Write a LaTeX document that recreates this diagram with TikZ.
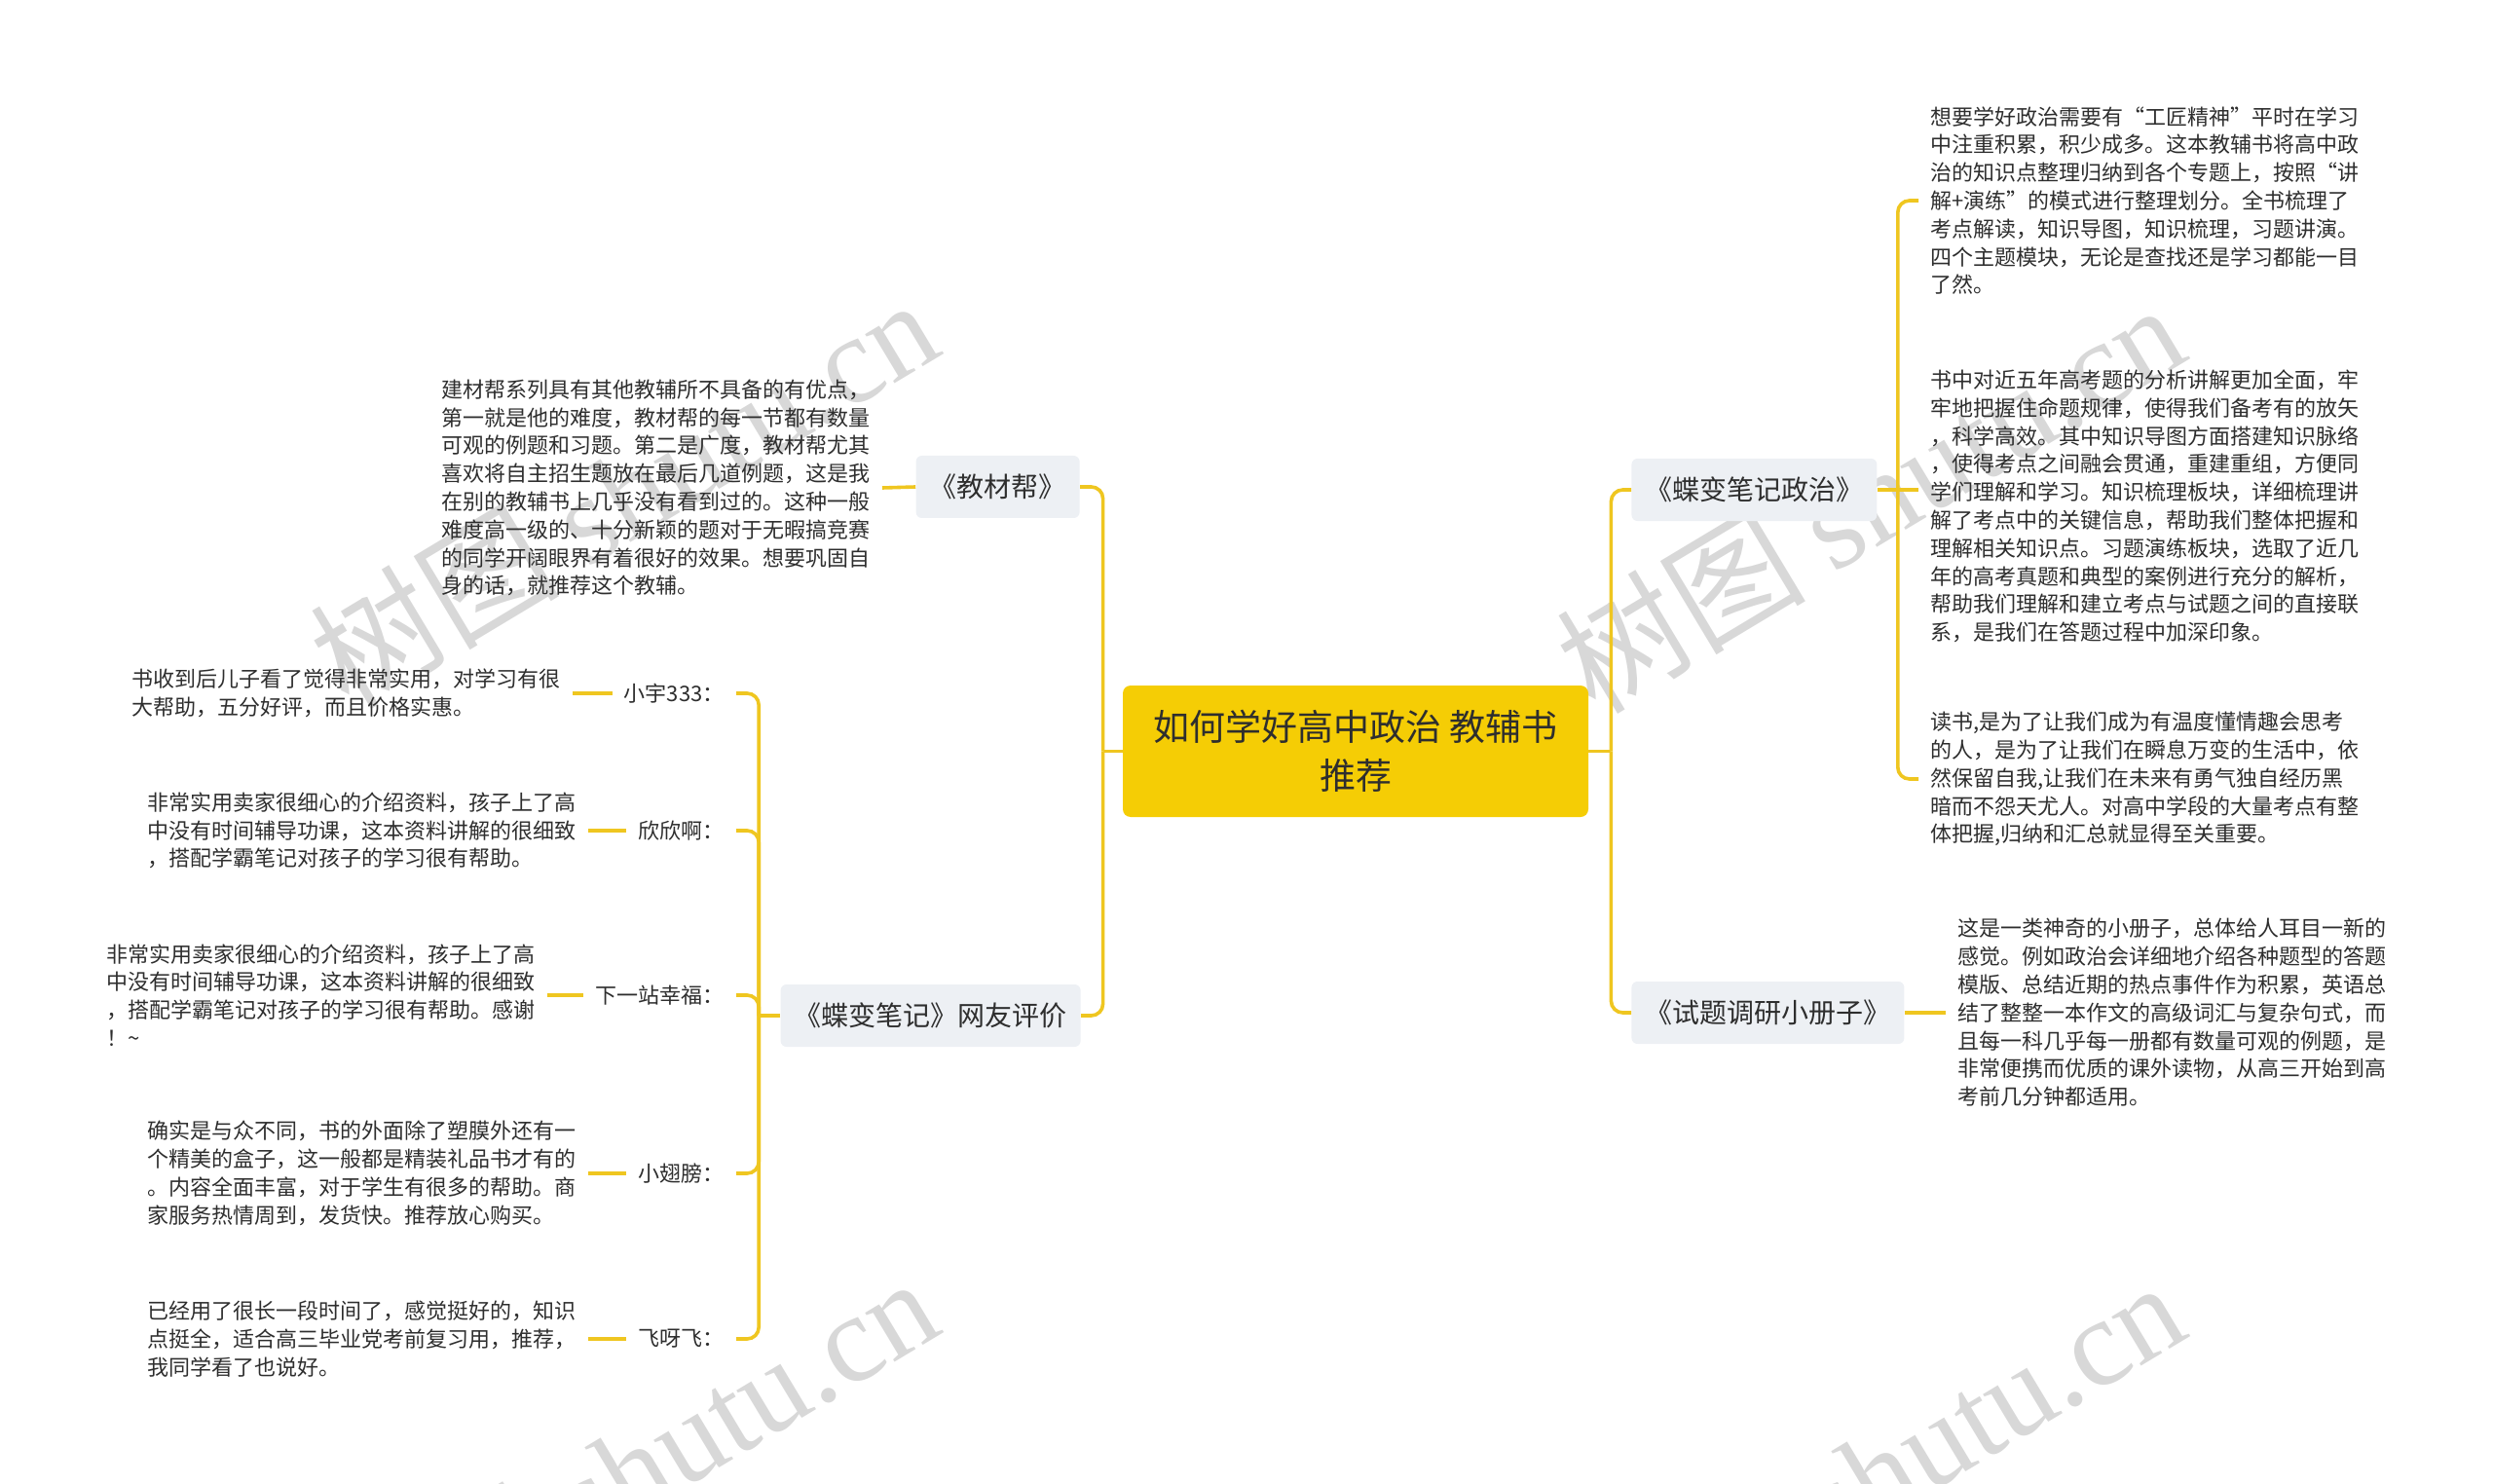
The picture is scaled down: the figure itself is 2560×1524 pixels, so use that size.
\documentclass[tikz,border=0pt]{standalone}
\usepackage{fontspec}
\setmainfont{Noto Sans CJK SC}
\newfontfamily\markserif{Liberation Serif}
\usepackage{tikz}

\definecolor{coreyellow}{HTML}{F5CD05}
\definecolor{linkyellow}{HTML}{EFC620}
\definecolor{topicgray}{HTML}{EDF0F4}
\definecolor{inkdark}{HTML}{2E2E2E}
\definecolor{markgray}{HTML}{D8D8D8}

\tikzset{
  centre/.style={fill=coreyellow, rounded corners=4pt, text=inkdark, align=center,
    minimum width=239pt, minimum height=67.5pt, font=\fontsize{18.5}{25}\selectfont},
  topic/.style={fill=topicgray, rounded corners=3pt, text=inkdark, minimum height=32pt,
    inner xsep=7pt, font=\fontsize{14}{17}\selectfont},
  note/.style={align=left, inner xsep=6pt, inner ysep=2pt, text=inkdark,
    font=\fontsize{11}{14.4}\selectfont},
  reviewer/.style={inner xsep=6pt, text=inkdark, font=\fontsize{11}{14.4}\selectfont},
  conn/.style={draw=linkyellow, line width=1.8pt, rounded corners=6pt},
  wmark/.style={text=markgray, rotate=31, inner sep=0pt, font=\fontsize{64}{64}\selectfont}
}

\begin{document}
\begin{tikzpicture}[x=0.5pt, y=-0.5pt]
  \path[use as bounding box] (0,0) rectangle (2560,1524);
  \clip (0,0) rectangle (2560,1524);

  \foreach \mx/\my in {640/505, 1920/510, 640/1510, 1920/1514}
    \node[wmark] (wm-\mx-\my) at (\mx,\my) {树图 {\markserif shutu.cn}};

  \node[centre] (root) at (1392,771.5) {如何学好高中政治 教辅书\\推荐};

  \node[topic, anchor=east] (jcb) at (1109,500) {《教材帮》};
  \node[topic, anchor=east] (wypj) at (1110,1043) {《蝶变笔记》网友评价};
  \node[topic, anchor=west] (dbz) at (1675,503) {《蝶变笔记政治》};
  \node[topic, anchor=west] (stm) at (1675,1040) {《试题调研小册子》};

  \node[note, anchor=east] (jtxt) at (906,501) {建材帮系列具有其他教辅所不具备的有优点，\\
    第一就是他的难度，教材帮的每一节都有数量\\
    可观的例题和习题。第二是广度，教材帮尤其\\
    喜欢将自主招生题放在最后几道例题，这是我\\
    在别的教辅书上几乎没有看到过的。这种一般\\
    难度高一级的、十分新颖的题对于无暇搞竞赛\\
    的同学开阔眼界有着很好的效果。想要巩固自\\
    身的话，就推荐这个教辅。};

  \node[note, anchor=west] (r1) at (1970,206) {想要学好政治需要有“工匠精神”平时在学习\\
    中注重积累，积少成多。这本教辅书将高中政\\
    治的知识点整理归纳到各个专题上，按照“讲\\
    解+演练”的模式进行整理划分。全书梳理了\\
    考点解读，知识导图，知识梳理，习题讲演。\\
    四个主题模块，无论是查找还是学习都能一目\\
    了然。};
  \node[note, anchor=west] (r2) at (1970,520) {书中对近五年高考题的分析讲解更加全面，牢\\
    牢地把握住命题规律，使得我们备考有的放矢\\
    ，科学高效。其中知识导图方面搭建知识脉络\\
    ，使得考点之间融会贯通，重建重组，方便同\\
    学们理解和学习。知识梳理板块，详细梳理讲\\
    解了考点中的关键信息，帮助我们整体把握和\\
    理解相关知识点。习题演练板块，选取了近几\\
    年的高考真题和典型的案例进行充分的解析，\\
    帮助我们理解和建立考点与试题之间的直接联\\
    系，是我们在答题过程中加深印象。};
  \node[note, anchor=west] (r3) at (1970,800) {读书,是为了让我们成为有温度懂情趣会思考\\
    的人，是为了让我们在瞬息万变的生活中，依\\
    然保留自我,让我们在未来有勇气独自经历黑\\
    暗而不怨天尤人。对高中学段的大量考点有整\\
    体把握,归纳和汇总就显得至关重要。};
  \node[note, anchor=west] (r4) at (1998,1040) {这是一类神奇的小册子，总体给人耳目一新的\\
    感觉。例如政治会详细地介绍各种题型的答题\\
    模版、总结近期的热点事件作为积累，英语总\\
    结了整整一本作文的高级词汇与复杂句式，而\\
    且每一科几乎每一册都有数量可观的例题，是\\
    非常便携而优质的课外读物，从高三开始到高\\
    考前几分钟都适用。};

  \node[reviewer, anchor=east] (who1) at (756,712) {小宇333：};
  \node[reviewer, anchor=east] (who2) at (756,853) {欣欣啊：};
  \node[reviewer, anchor=east] (who3) at (756,1022) {下一站幸福：};
  \node[reviewer, anchor=east] (who4) at (756,1205) {小翅膀：};
  \node[reviewer, anchor=east] (who5) at (756,1375) {飞呀飞：};

  \node[note, anchor=east] (say1) at (588,712) {书收到后儿子看了觉得非常实用，对学习有很\\
    大帮助，五分好评，而且价格实惠。};
  \node[note, anchor=east] (say2) at (604,853) {非常实用卖家很细心的介绍资料，孩子上了高\\
    中没有时间辅导功课，这本资料讲解的很细致\\
    ，搭配学霸笔记对孩子的学习很有帮助。};
  \node[note, anchor=east] (say3) at (562,1022) {非常实用卖家很细心的介绍资料，孩子上了高\\
    中没有时间辅导功课，这本资料讲解的很细致\\
    ，搭配学霸笔记对孩子的学习很有帮助。感谢\\
    ！\textasciitilde};
  \node[note, anchor=east] (say4) at (604,1205) {确实是与众不同，书的外面除了塑膜外还有一\\
    个精美的盒子，这一般都是精装礼品书才有的\\
    。内容全面丰富，对于学生有很多的帮助。商\\
    家服务热情周到，发货快。推荐放心购买。};
  \node[note, anchor=east] (say5) at (604,1375) {已经用了很长一段时间了，感觉挺好的，知识\\
    点挺全，适合高三毕业党考前复习用，推荐，\\
    我同学看了也说好。};

  \coordinate (lt) at ([xshift=-10pt]root.west);
  \coordinate (rt) at ([xshift=11.5pt]root.east);
  \coordinate (dt) at ([xshift=10.5pt]dbz.east);
  \coordinate (wt) at ([xshift=-11pt]wypj.west);

  \draw[conn] (root.west) -- (lt);
  \draw[conn] (lt) |- (jcb.east);
  \draw[conn] (lt) |- (wypj.east);
  \draw[conn] (root.east) -- (rt);
  \draw[conn] (rt) |- (dbz.west);
  \draw[conn] (rt) |- (stm.west);

  \draw[conn] (jcb.west) -- (jtxt.east);
  \draw[conn] (dbz.east) -- (dt);
  \draw[conn] (dt) |- (r1.west);
  \draw[conn] (dt) -- (dt -| r2.west);
  \draw[conn] (dt) |- (r3.west);
  \draw[conn] (stm.east) -- (r4.west);

  \draw[conn] (wypj.west) -- (wt);
  \foreach \i in {1,...,5} {
    \draw[conn] (wt) |- (who\i.east);
    \draw[conn] (say\i.east) -- (who\i.west);
  }
\end{tikzpicture}
\end{document}
